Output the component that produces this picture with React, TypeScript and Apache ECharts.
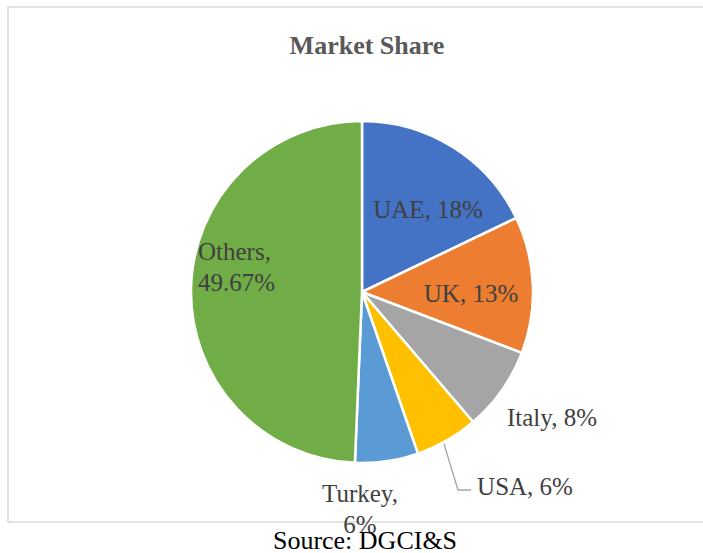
import React, { useEffect, useRef } from "react";
import * as echarts from "echarts";

const categories = ["UAE", "UK", "Italy", "USA", "Turkey", "Others"];
const shares = [18, 13, 8, 6, 6, 49.67];
const sliceColors = ["#4472C4", "#ED7D31", "#A5A5A5", "#FFC000", "#5B9BD5", "#70AD47"];
const titleText = "Market Share";
const sourceText = "Source: DGCI&S";

export default function App() {
  const ref = useRef<HTMLDivElement>(null);
  useEffect(() => {
    if (!ref.current) return;
    const chart = echarts.init(ref.current, null, { renderer: "svg" });
    const font = "Liberation Serif";
    // label anchor positions (x, y, align)
    const labelPos: any[] = [
      { x: 428, y: 209, align: "center" },
      { x: 471, y: 293, align: "center" },
      { x: 552, y: 417, align: "center" },
      { x: 525, y: 486, align: "center", line: [[444, 444], [458, 490], [471, 490]] },
      { x: 360, y: 509, align: "center" },
      { x: 198, y: 267, align: "left" },
    ];
    const data = categories.map((name, i) => ({
      name,
      value: shares[i],
      itemStyle: { color: sliceColors[i] },
      labelLine: { show: i === 3, lineStyle: { color: "#A6A6A6", width: 1.3 } },
      label: {
        formatter: i === 5 || i === 4 ? "{b},\n{c}%" : "{b}, {c}%",
        fontFamily: font,
      },
    }));
    chart.setOption({
      animation: false,
      backgroundColor: "#ffffff",
      textStyle: { fontFamily: font },
      title: {
        text: titleText,
        left: 362,
        top: 27,
        textAlign: "center",
        textStyle: { fontFamily: font, fontSize: 26, fontWeight: "bold", color: "#595959" },
      },
      graphic: [
        {
          type: "rect",
          z: -10,
          shape: { x: 8, y: 7, width: 720, height: 515 },
          style: { fill: "none", stroke: "#D9D9D9", lineWidth: 1.5 },
        },
        {
          type: "text",
          z: 10,
          x: 365,
          y: 540,
          style: {
            text: sourceText,
            fontFamily: font,
            fontSize: 26,
            fill: "#000000",
            align: "center",
            verticalAlign: "middle",
          },
        },
      ],
      series: [
        {
          type: "pie",
          center: [362, 292],
          radius: 171,
          startAngle: 90,
          clockwise: true,
          avoidLabelOverlap: false,
          itemStyle: { borderColor: "#ffffff", borderWidth: 2.5 },
          label: {
            show: true,
            position: "outside",
            fontFamily: font,
            fontSize: 25,
            lineHeight: 31,
            color: "#404040",
          },
          labelLine: { show: false },
          labelLayout: (params: any) => {
            const p = labelPos[params.dataIndex];
            const out: any = { x: p.x, y: p.y, align: p.align, verticalAlign: "middle" };
            if (p.line) out.labelLinePoints = p.line;
            return out;
          },
          data,
        },
      ],
    });
    return () => chart.dispose();
  }, []);
  return (
    <div
      ref={ref}
      style={{ position: "fixed", left: 0, top: 0, width: 703, height: 553 }}
    />
  );
}
